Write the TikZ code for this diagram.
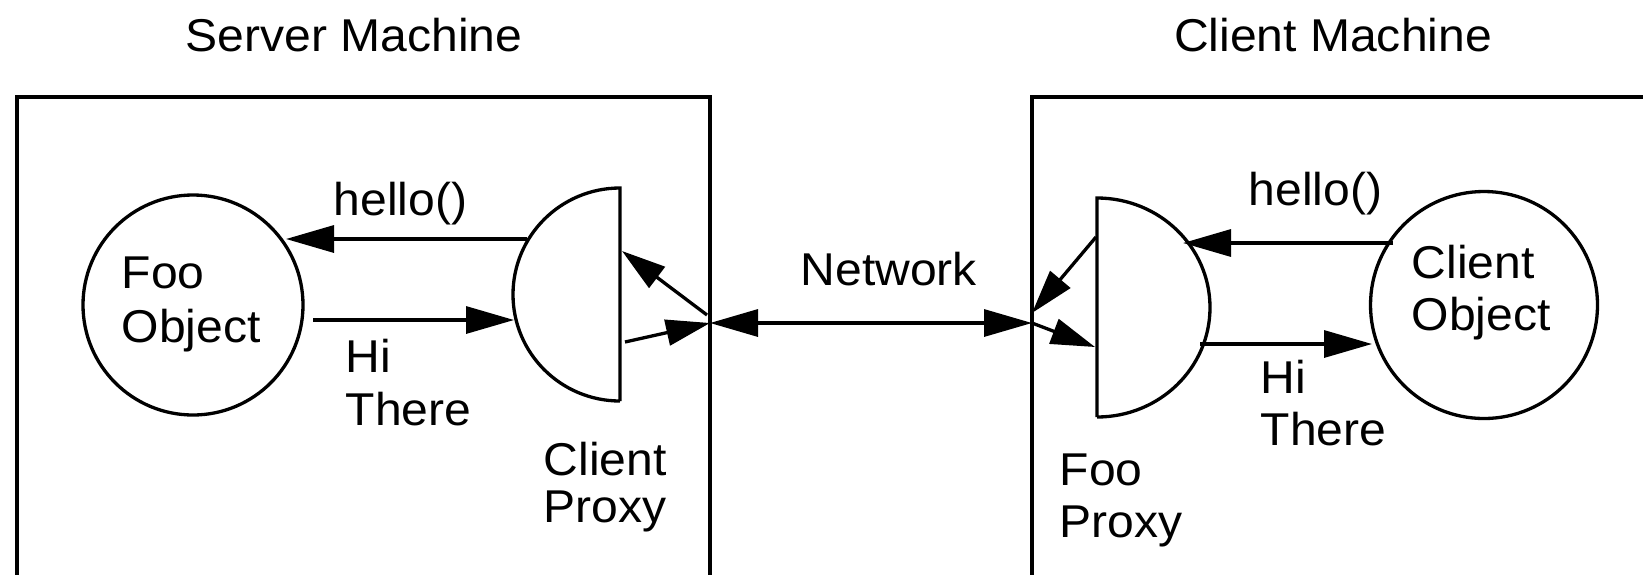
\documentclass[tikz,border=0pt]{standalone}
\usepackage{fontspec}
\setmainfont{Liberation Sans}[FakeStretch=1.045]
\usetikzlibrary{arrows.meta}
\begin{document}
\begin{tikzpicture}[x=1pt,y=-1pt,line width=3.3pt,
  lbl/.style={font=\fontsize{46}{#1}\selectfont,align=left,inner sep=0pt,anchor=base west},
  lbl/.default=53,
  ttl/.style={font=\fontsize{46}{53}\selectfont,inner sep=0pt,anchor=base},
  obj/.style={draw,circle,inner sep=0pt,minimum size=#1},
  arr/.style={-{Triangle[length=48pt,width=27pt]}},
  darr/.style={{Triangle[length=48pt,width=27pt]}-{Triangle[length=48pt,width=27pt]}},
  sarr/.style={-{Triangle[length=44pt,width=26pt]}}
]
\useasboundingbox (0,0) rectangle (1643,574);
% machine frames (cut by the picture edge)
\begin{scope}
\clip (0,0) rectangle (1643,574);
\draw (17,600) -- (17,97) -- (710,97) -- (710,600);
\draw (1032,600) -- (1032,97) -- (1670,97);
\end{scope}
\node[ttl] (srvt) at (354,51) {Server Machine};
\node[ttl] (clit) at (1333,51) {Client Machine};

% objects
\node[obj=220pt] (foo) at (193,305) {};
\node[obj=227pt] (cli) at (1484,305) {};

% proxies
\coordinate (cpT) at (620,188);
\coordinate (cpB) at (620,401);
\draw (cpB) -- (cpT) arc[start angle=90,end angle=270,x radius=107pt,y radius=106.5pt];
\coordinate (fpT) at (1097,198);
\coordinate (fpB) at (1097,417);
\draw (fpB) -- (fpT) arc[start angle=90,end angle=-90,x radius=113pt,y radius=109.5pt];

% connection points
\coordinate (jL) at (710,323);
\coordinate (jR) at (1032,323);
\coordinate (jLa) at (707,315);
\coordinate (jRb) at (1032,313);
\coordinate (cpH) at (527,239);
\coordinate (fooH) at (286,239);
\coordinate (fooR) at (313,320);
\coordinate (cpR) at (514,320);
\coordinate (cpU) at (622,251);
\coordinate (cpD) at (625,342);
\coordinate (fpU) at (1096,237);
\coordinate (fpD) at (1095,347);
\coordinate (cliH) at (1393,243);
\coordinate (fpH) at (1183,243);
\coordinate (fpR) at (1200,344);
\coordinate (cliR) at (1372,344);

% connectors
\draw[darr] (jL) -- (jR);
\draw[arr] (cpH) -- (fooH);
\draw[arr] (fooR) -- (cpR);
\draw[sarr] (jLa) -- (cpU);
\draw[sarr] (cpD) -- (jL);
\draw[sarr] (fpU) -- (jRb);
\draw[sarr] (jR) -- (fpD);
\draw[arr] (cliH) -- (fpH);
\draw[arr] (fpR) -- (cliR);

% labels (anchor = baseline of the last line)
\node[lbl=54] (fooL) at (120,342) {Foo\\Object};
\node[lbl=53] (hiL) at (344,425) {Hi\\There};
\node[lbl=47] (cpL) at (542,522) {Client\\Proxy};
\node[lbl] (helL) at (332,215) {hello()};
\node[lbl] (net) at (799,285) {Network};
\node[lbl] (helR) at (1247,205) {hello()};
\node[lbl=52] (cliL) at (1410,330) {Client\\Object};
\node[lbl=52] (hiR) at (1259,445) {Hi\\There};
\node[lbl=52] (fpL) at (1058,537) {Foo\\Proxy};
\end{tikzpicture}
\end{document}
